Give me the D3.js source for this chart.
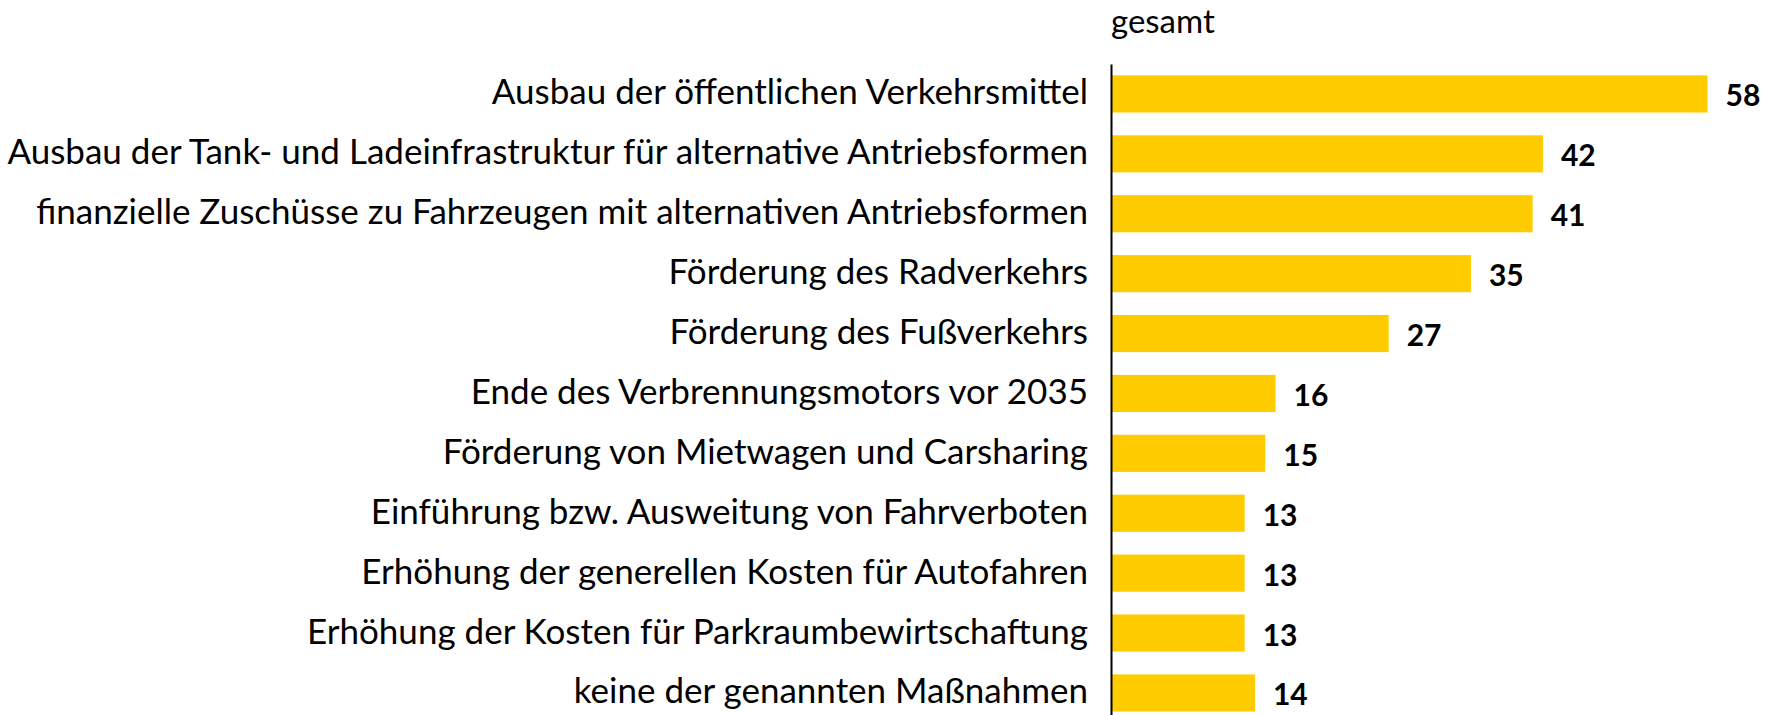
<!DOCTYPE html>
<html>
<head>
<meta charset="utf-8">
<script src="https://cdn.jsdelivr.net/npm/d3@7"></script>
<style>
  html, body { margin: 0; padding: 0; background: #ffffff; }
  svg { display: block; }
</style>
</head>
<body>
<svg id="chart" width="1765" height="715"></svg>
<script>
// Zustimmung zu Maßnahmen im Verkehrsbereich (in %)
const categories = [
  "Ausbau der öffentlichen Verkehrsmittel",
  "Ausbau der Tank- und Ladeinfrastruktur für alternative Antriebsformen",
  "finanzielle Zuschüsse zu Fahrzeugen mit alternativen Antriebsformen",
  "Förderung des Radverkehrs",
  "Förderung des Fußverkehrs",
  "Ende des Verbrennungsmotors vor 2035",
  "Förderung von Mietwagen und Carsharing",
  "Einführung bzw. Ausweitung von Fahrverboten",
  "Erhöhung der generellen Kosten für Autofahren",
  "Erhöhung der Kosten für Parkraumbewirtschaftung",
  "keine der genannten Maßnahmen"
];
const values = [58, 42, 41, 35, 27, 16, 15, 13, 13, 13, 14];
const seriesName = "gesamt";

const FONT = "Lato, 'Open Sans', sans-serif";
const svg = d3.select("#chart");

const axisX = 1111;

const x = d3.scaleLinear()
  .domain([0, 58])
  .range([axisX, 1707.5]);

const y = d3.scaleBand()
  .domain(categories)
  .range([64, 64 + 59.9 * 11])
  .paddingInner(0.38)
  .paddingOuter(0.19);

// bars
svg.append("g")
  .selectAll("rect")
  .data(values)
  .join("rect")
  .attr("x", x(0))
  .attr("y", (d, i) => y(categories[i]))
  .attr("width", d => x(d) - x(0))
  .attr("height", y.bandwidth())
  .attr("fill", "#ffcc00");

// category axis
const yAxis = svg.append("g")
  .attr("transform", `translate(${axisX},0)`)
  .call(d3.axisLeft(y).tickSize(0).tickSizeOuter(0).tickPadding(23));
yAxis.select(".domain").attr("stroke", "#000").attr("stroke-width", 2);
yAxis.selectAll("text")
  .attr("font-family", FONT)
  .attr("font-size", 35)
  .attr("dy", "0.3em")
  .attr("fill", "#000");

// value labels
svg.append("g")
  .selectAll("text")
  .data(values)
  .join("text")
  .attr("x", d => x(d) + 18)
  .attr("y", (d, i) => y(categories[i]) + y.bandwidth() / 2 + 12.5)
  .attr("font-family", FONT)
  .attr("font-weight", "bold")
  .attr("font-size", 30)
  .attr("fill", "#000")
  .text(d => d);

// series heading
svg.append("text")
  .attr("x", axisX)
  .attr("y", 33)
  .attr("font-family", FONT)
  .attr("font-size", 33)
  .attr("fill", "#000")
  .text(seriesName);
</script>
</body>
</html>
